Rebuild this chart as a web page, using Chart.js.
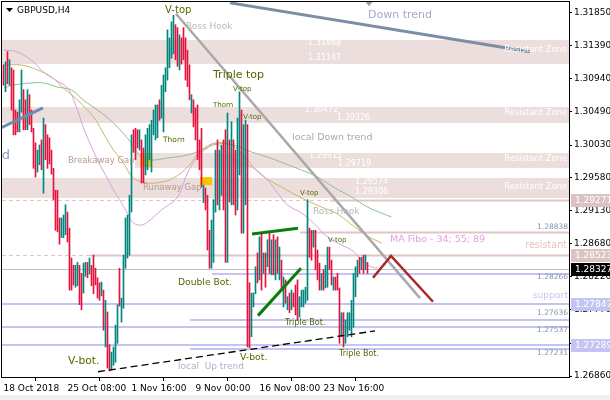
<!DOCTYPE html>
<html><head><meta charset="utf-8">
<script src="https://cdn.jsdelivr.net/npm/chart.js@4.4.0/dist/chart.umd.min.js"></script>
<style>html,body{margin:0;padding:0;background:#fff;overflow:hidden}#wrap{width:610px;height:400px}</style>
</head><body><div id="wrap"><canvas id="c" width="610" height="400"></canvas></div>
<script>
// ---------- data ----------
const opens=[1.3109,1.3081,1.3125,1.3092,1.3103,1.3065,1.3048,1.3044,1.3026,1.3054,
1.3072,1.3040,1.3031,1.3068,1.3044,1.3024,1.2996,1.2971,1.2983,1.3003,
1.2944,1.3026,1.3013,1.3007,1.2989,1.2966,1.2937,1.2934,1.2897,1.2878,
1.2881,1.2886,1.2907,1.2884,1.2842,1.2834,1.2814,1.2815,1.2832,1.2818,
1.2804,1.2829,1.2838,1.2829,1.2834,1.2842,1.2829,1.2815,1.2810,1.2799,
1.2797,1.2731,1.2770,1.2722,1.2701,1.2705,1.2711,1.2740,1.2829,1.2766,
1.2784,1.2842,1.2852,1.2859,1.2928,1.3017,1.3021,1.3018,1.2999,1.3003,
1.2993,1.2969,1.2976,1.2989,1.3003,1.3024,1.3026,1.3017,1.3058,1.3044,
1.3040,1.3081,1.3099,1.3113,1.3127,1.3133,1.3164,1.3158,1.3111,1.3144,
1.3158,1.3144,1.3127,1.3106,1.3051,1.3059,1.3048,1.3051,1.3003,1.3021,
1.2928,1.2941,1.2930,1.2873,1.2842,1.2880,1.2921,1.2989,1.2928,1.2941,
1.2989,1.3017,1.2852,1.3006,1.2928,1.2996,1.2983,1.2928,1.2996,1.3044,
1.2907,1.2928,1.3026,1.2804,1.2742,1.2784,1.2801,1.2848,1.2821,1.2873,
1.2832,1.2851,1.2842,1.2876,1.2832,1.2870,1.2823,1.2866,1.2821,1.2838,
1.2790,1.2814,1.2779,1.2795,1.2784,1.2796,1.2804,1.2797,1.2771,1.2784,
1.2786,1.2790,1.2801,1.2884,1.2873,1.2866,1.2880,1.2848,1.2834,1.2808,
1.2825,1.2811,1.2825,1.2859,1.2840,1.2807,1.2818,1.2821,1.2804,1.2742,
1.2767,1.2736,1.2742,1.2752,1.2756,1.2766,1.2804,1.2826,1.2842,1.2834,
1.2848,1.2834,1.2840];
const highs=[1.3113,1.3117,1.3131,1.3120,1.3109,1.3106,1.3051,1.3048,1.3065,1.3106,
1.3079,1.3065,1.3079,1.3072,1.3051,1.3026,1.3006,1.2996,1.3003,1.3010,
1.3040,1.3031,1.3017,1.3013,1.2996,1.2971,1.2941,1.2941,1.2903,1.2903,
1.2907,1.2921,1.2911,1.2889,1.2848,1.2838,1.2838,1.2842,1.2838,1.2827,
1.2841,1.2842,1.2842,1.2848,1.2838,1.2852,1.2834,1.2821,1.2814,1.2815,
1.2804,1.2790,1.2774,1.2729,1.2719,1.2726,1.2756,1.2784,1.2834,1.2793,
1.2852,1.2903,1.2907,1.2934,1.3017,1.3024,1.3026,1.3024,1.3024,1.3010,
1.2999,1.3017,1.3026,1.3031,1.3037,1.3051,1.3058,1.3058,1.3065,1.3085,
1.3099,1.3109,1.3161,1.3150,1.3172,1.3181,1.3168,1.3164,1.3154,1.3150,
1.3164,1.3150,1.3133,1.3113,1.3072,1.3065,1.3054,1.3058,1.3010,1.3026,
1.2948,1.2944,1.2934,1.2886,1.2900,1.2928,1.2996,1.3010,1.2996,1.3003,
1.3010,1.3024,1.3047,1.3010,1.3035,1.3010,1.2996,1.3040,1.3076,1.3051,
1.3031,1.3037,1.3031,1.2814,1.2800,1.2800,1.2836,1.2855,1.2877,1.2882,
1.2855,1.2855,1.2873,1.2882,1.2873,1.2880,1.2873,1.2877,1.2863,1.2845,
1.2822,1.2818,1.2795,1.2800,1.2804,1.2800,1.2811,1.2818,1.2795,1.2804,
1.2804,1.2808,1.2928,1.2889,1.2886,1.2886,1.2886,1.2859,1.2841,1.2827,
1.2832,1.2838,1.2863,1.2863,1.2845,1.2822,1.2822,1.2827,1.2807,1.2773,
1.2773,1.2763,1.2773,1.2773,1.2790,1.2827,1.2836,1.2845,1.2849,1.2849,
1.2852,1.2852,1.2842];
const lows=[1.3085,1.3076,1.3087,1.3085,1.3051,1.3017,1.3017,1.3021,1.3021,1.3048,
1.3024,1.3024,1.3024,1.3031,1.3021,1.2971,1.2959,1.2966,1.2976,1.2969,
1.2937,1.2983,1.2971,1.2977,1.2963,1.2928,1.2886,1.2884,1.2867,1.2876,
1.2876,1.2880,1.2870,1.2804,1.2804,1.2811,1.2808,1.2810,1.2784,1.2777,
1.2800,1.2823,1.2821,1.2826,1.2810,1.2799,1.2811,1.2793,1.2790,1.2796,
1.2749,1.2726,1.2697,1.2693,1.2694,1.2701,1.2705,1.2731,1.2782,1.2760,
1.2779,1.2834,1.2848,1.2852,1.2911,1.2993,1.2983,1.2999,1.2996,1.2951,
1.2951,1.2962,1.2969,1.2983,1.2966,1.3017,1.3010,1.3013,1.3037,1.3040,
1.3021,1.3076,1.3092,1.3109,1.3122,1.3128,1.3120,1.3111,1.3106,1.3114,
1.3120,1.3092,1.3083,1.3065,1.3047,1.3028,1.3010,1.2983,1.2969,1.2945,
1.2924,1.2914,1.2859,1.2834,1.2834,1.2842,1.2911,1.2921,1.2914,1.2934,
1.2914,1.2842,1.2842,1.2925,1.2921,1.2921,1.2907,1.2914,1.2962,1.2882,
1.2882,1.2921,1.2726,1.2725,1.2740,1.2781,1.2799,1.2814,1.2818,1.2804,
1.2827,1.2808,1.2836,1.2827,1.2825,1.2825,1.2818,1.2827,1.2818,1.2804,
1.2781,1.2786,1.2777,1.2773,1.2777,1.2781,1.2770,1.2763,1.2767,1.2781,
1.2781,1.2786,1.2790,1.2849,1.2845,1.2863,1.2832,1.2818,1.2804,1.2804,
1.2804,1.2807,1.2808,1.2832,1.2811,1.2804,1.2804,1.2804,1.2731,1.2740,
1.2726,1.2731,1.2740,1.2749,1.2740,1.2753,1.2795,1.2822,1.2827,1.2832,
1.2827,1.2832,1.2827];
const closes=[1.3092,1.3111,1.3089,1.3113,1.3058,1.3026,1.3024,1.3026,1.3051,1.3099,
1.3031,1.3031,1.3072,1.3037,1.3026,1.2983,1.2966,1.2989,1.2996,1.2976,
1.3035,1.2985,1.2976,1.2983,1.2969,1.2934,1.2893,1.2889,1.2873,1.2897,
1.2900,1.2914,1.2876,1.2811,1.2811,1.2815,1.2832,1.2836,1.2790,1.2784,
1.2834,1.2840,1.2823,1.2842,1.2814,1.2804,1.2815,1.2796,1.2793,1.2810,
1.2756,1.2782,1.2705,1.2701,1.2712,1.2719,1.2749,1.2777,1.2788,1.2788,
1.2842,1.2893,1.2900,1.2928,1.3010,1.2999,1.2989,1.3003,1.3017,1.2955,
1.2962,1.3010,1.3021,1.3024,1.3031,1.3044,1.3051,1.3048,1.3040,1.3079,
1.3092,1.3103,1.3150,1.3144,1.3164,1.3172,1.3127,1.3117,1.3147,1.3120,
1.3127,1.3099,1.3089,1.3072,1.3065,1.3035,1.3017,1.2989,1.2976,1.2955,
1.2941,1.2921,1.2866,1.2842,1.2889,1.2921,1.2985,1.2928,1.2983,1.2983,
1.2928,1.2852,1.3031,1.2941,1.2996,1.2934,1.2928,1.3031,1.3065,1.2955,
1.3024,1.3026,1.2749,1.2742,1.2790,1.2795,1.2829,1.2818,1.2870,1.2811,
1.2851,1.2814,1.2866,1.2834,1.2866,1.2832,1.2859,1.2832,1.2856,1.2811,
1.2815,1.2790,1.2790,1.2779,1.2800,1.2785,1.2777,1.2770,1.2790,1.2800,
1.2799,1.2804,1.2907,1.2859,1.2852,1.2880,1.2842,1.2825,1.2811,1.2822,
1.2811,1.2832,1.2856,1.2838,1.2818,1.2818,1.2807,1.2808,1.2749,1.2766,
1.2736,1.2756,1.2766,1.2768,1.2784,1.2818,1.2829,1.2841,1.2832,1.2845,
1.2834,1.2845,1.28327];

// Moving averages (bar index, value)
const ma34Idx=[0,7,15,20,26,32,37,40,47,51,55,59,62,65,69,72,79,87,92,97,102,106,110,115,124,132,137,142,149,155,162,169,174,179,184,187];
const ma34Val=[1.31333,1.31306,1.31169,1.31031,1.30922,1.30812,1.30510,1.30263,1.29824,1.29619,1.29413,1.29234,1.29097,1.28960,1.28933,1.28974,1.29138,1.29317,1.29646,1.29865,1.29989,1.30057,1.29961,1.29824,1.29728,1.29550,1.29372,1.29207,1.29097,1.28960,1.28768,1.28658,1.28590,1.28453,1.28357,1.28343];
const ma55Idx=[0,9,17,24,30,37,45,49,54,60,65,72,79,85,92,99,106,114,121,129,139,149,159,167,175,182,189];
const ma55Val=[1.31127,1.31127,1.31059,1.30963,1.30812,1.30647,1.30414,1.30236,1.30003,1.29783,1.29577,1.29509,1.29522,1.29577,1.29728,1.29961,1.30057,1.30030,1.29852,1.29619,1.29454,1.29303,1.29180,1.29084,1.28919,1.28782,1.28686];
const ma89Idx=[0,5,14,20,27,34,40,47,55,64,69,74,82,92,99,107,115,124,132,140,149,157,165,174,182,189,194];
const ma89Val=[1.30812,1.30853,1.30881,1.30881,1.30826,1.30785,1.30647,1.30510,1.30332,1.30057,1.29865,1.29824,1.29852,1.29893,1.29961,1.30044,1.30030,1.29934,1.29865,1.29783,1.29687,1.29591,1.29454,1.29317,1.29180,1.29097,1.29042];

const xTickIdx=[0,32,64,96,128,160];
const xTickLabels=['18 Oct 2018','25 Oct 08:00','1 Nov 16:00','9 Nov 00:00','16 Nov 08:00','23 Nov 16:00'];
const yTicks=[1.26860,1.27310,1.27770,1.28220,1.28680,1.29130,1.29580,1.30030,1.30490,1.30940,1.31390,1.31850];

const zoneTops=[1.31468,1.30550,1.29915,1.29574];
const zoneBottoms=[1.31147,1.30326,1.29719,1.29306];
const pinkLevels=[1.29271,1.28838,1.28523];
const supportLevels=[1.28266,1.27847,1.27636,1.27537,1.27289,1.27231];
const lastPrice=1.28327;

// ---------- styling / annotation config ----------
const FONT='"DejaVu Sans", Verdana, sans-serif';
const UP='#00857f', DN='#e8103c';
const OLV='#4f6a00';
const zoneFrom=[null,null,65.75,null];
const pinkCfg=[{dashFull:true,solidFrom:163.25},{dashFull:false,solidFrom:148.25},{dashFull:true,solidFrom:43.25}];
const supFrom=[104.25,null,93.25,null,null,93.25];
const gapBoxes=[[68.25,74.25,1.2992,1.2973],[98.25,104.25,1.2959,1.2948]];
const segs=[
 {p:[[113.25,1.3198],[263.25,1.3131]],c:'#7b8ea3',w:3},
 {p:[[-1.75,1.3026],[19.75,1.3054]],c:'#6d8db2',w:3},
 {p:[[86.25,1.3183],[208.25,1.2793]],c:'#a9a9a9',w:2.5},
 {p:[[47.25,1.2692],[185.75,1.2748]],c:'#000',w:1.3,d:[7,4]},
 {p:[[124.25,1.2881],[147.25,1.2889]],c:'#0a7d0a',w:3},
 {p:[[127.25,1.2769],[148.75,1.2834]],c:'#0a7d0a',w:3},
 {p:[[184.75,1.2821],[193.75,1.2851],[214.75,1.2788]],c:'#a8282c',w:2.5}
];
const notes=[
 ['V-top',80.8,1.3188,OLV,10,'left'],
 ['Ross Hook',91.25,1.3165,'#b8b8b8',9,'left'],
 ['Down trend',182.25,1.3181,'#a3abc3',11,'left'],
 ['1.31468',152.25,1.3143,'#fff',8,'left'],
 ['1.31147',152.25,1.3122,'#fff',8,'left'],
 ['Resistant Zone',281.75,1.3133,'#fff',8.4,'right'],
 ['Resistant Zone',281.75,1.3047,'#fff',8.4,'right'],
 ['Resistant Zone',281.75,1.2984,'#fff',8.4,'right'],
 ['Resistant Zone',281.75,1.2945,'#fff',8.4,'right'],
 ['Triple top',104.75,1.3099,OLV,11,'left'],
 ['V-top',114.75,1.3080,OLV,7,'left'],
 ['Thorn',104.75,1.3058,OLV,7,'left'],
 ['V-top',119.75,1.3041,OLV,7,'left'],
 ['1.30472',150.75,1.3051,'#fff',8,'left'],
 ['1.30326',166.75,1.3040,'#fff',8,'left'],
 ['Thorn',79.75,1.3010,OLV,7.5,'left'],
 ['local Down trend',144.25,1.3013,'#a9a9b1',9.5,'left'],
 ['Breakaway Gap',32.25,1.2981,'#b89a8c',8.5,'left'],
 ['Runaway Gap',69.75,1.2944,'#b89a8c',8.5,'left'],
 ['1.29915',152.75,1.2988,'#fff',8,'left'],
 ['1.29719',167.25,1.2977,'#fff',8,'left'],
 ['1.29574',175.75,1.2952,'#fff',8,'left'],
 ['1.29306',175.75,1.2939,'#fff',8,'left'],
 ['V-top',148.25,1.2937,OLV,7,'left'],
 ['Ross Hook',154.75,1.2911,'#b8b8b8',9,'left'],
 ['V-top',162.25,1.2873,OLV,7,'left'],
 ['MA Fibo - 34; 55; 89',193.25,1.2873,'#e0a0e0',9.5,'left'],
 ['1.28838',282.25,1.2891,'#8494b0',7.5,'right'],
 ['resistant',281.75,1.2865,'#e2c4c4',9.6,'right'],
 ['1.28266',282.25,1.2822,'#8494b0',7.5,'right'],
 ['support',282.25,1.2797,'#c4c4f2',9.2,'right'],
 ['1.27636',282.25,1.2773,'#8494b0',7.5,'right'],
 ['1.27537',282.25,1.2749,'#8494b0',7.5,'right'],
 ['1.27231',282.25,1.2718,'#8494b0',7.5,'right'],
 ['Double Bot.',87.25,1.2814,OLV,9.2,'left'],
 ['Triple Bot.',140.75,1.2759,OLV,8.1,'left'],
 ['Triple Bot.',167.75,1.2716,OLV,8,'left'],
 ['V-bot.',118.25,1.2712,OLV,9.3,'left'],
 ['V-bot.',32.25,1.2707,OLV,10.7,'left'],
 ['local  Up trend',87.25,1.2699,'#a8b2c8',9,'left'],
 ['Up trend',3.25,1.2989,'#8c9cc4',13,'right']
];
const axisBoxes=[[1.29271,'#dcc2c2'],[1.28523,'#dcc2c2'],[lastPrice,'#000'],[1.27847,'#c4c4f2'],[1.27289,'#c4c4f2']];

const overlay={
 id:'overlay',
 beforeDraw(ch){const c=ch.ctx;c.save();c.fillStyle='#fff';c.fillRect(0,0,ch.width,ch.height);c.fillStyle='#f0f0f0';c.fillRect(0,395,ch.width,5);c.restore();},
 beforeDatasetsDraw(ch){
  const c=ch.ctx,a=ch.chartArea,X=v=>ch.scales.x.getPixelForValue(v),Y=v=>ch.scales.y.getPixelForValue(v);
  c.save();c.beginPath();c.rect(a.left,a.top,a.right-a.left,a.bottom-a.top);c.clip();
  c.fillStyle='#ecdedd';
  zoneTops.forEach((t,k)=>{const x0=zoneFrom[k]==null?a.left:X(zoneFrom[k]);const y0=Math.round(Y(t)),y1=Math.round(Y(zoneBottoms[k]));c.fillRect(x0,y0,a.right-x0,y1-y0);});
  pinkLevels.forEach((p,k)=>{const y=Math.round(Y(p))+0.5;const cf=pinkCfg[k];
   if(cf.dashFull){c.strokeStyle='#e6c2c2';c.lineWidth=1;c.setLineDash([4,3]);c.beginPath();c.moveTo(a.left,y);c.lineTo(a.right,y);c.stroke();c.setLineDash([]);}
   c.strokeStyle='#dec6c6';c.lineWidth=2;c.beginPath();c.moveTo(X(cf.solidFrom),y);c.lineTo(a.right,y);c.stroke();});
  c.strokeStyle='#c4c4f4';c.lineWidth=2;
  supportLevels.forEach((p,k)=>{const y=Math.round(Y(p));const x0=supFrom[k]==null?a.left:X(supFrom[k]);c.beginPath();c.moveTo(x0,y);c.lineTo(a.right,y);c.stroke();});
  c.strokeStyle='#c0c0c0';c.lineWidth=1;const yl=Math.round(Y(lastPrice))+0.5;c.beginPath();c.moveTo(a.left,yl);c.lineTo(a.right,yl);c.stroke();
  c.fillStyle='#f6c700';
  gapBoxes.forEach(b=>{c.fillRect(X(b[0]),Y(b[2]),X(b[1])-X(b[0]),Y(b[3])-Y(b[2]));});
  c.restore();
 },
 afterDatasetsDraw(ch){
  const c=ch.ctx,a=ch.chartArea,X=v=>ch.scales.x.getPixelForValue(v),Y=v=>ch.scales.y.getPixelForValue(v);
  c.save();c.beginPath();c.rect(a.left,a.top,a.right-a.left,a.bottom-a.top);c.clip();
  segs.forEach(s=>{c.strokeStyle=s.c;c.lineWidth=s.w;c.setLineDash(s.d||[]);c.lineCap='butt';c.beginPath();s.p.forEach((q,j)=>{const x=X(q[0]),y=Y(q[1]);j?c.lineTo(x,y):c.moveTo(x,y);});c.stroke();});
  c.setLineDash([]);
  c.fillStyle='#a0a0a0';const tx=X(182.75),ty=Y(1.3196);c.beginPath();c.moveTo(tx-4,ty-3);c.lineTo(tx+4,ty-3);c.lineTo(tx,ty+2);c.closePath();c.fill();
  c.textBaseline='middle';
  notes.forEach(n=>{c.font=n[4]+'px '+FONT;c.fillStyle=n[3];c.textAlign=n[5];c.fillText(n[0],X(n[1]),Y(n[2]));});
  c.restore();
  c.save();c.fillStyle='#000';c.beginPath();c.moveTo(a.left+4,a.top+6);c.lineTo(a.left+11,a.top+6);c.lineTo(a.left+7.5,a.top+10);c.closePath();c.fill();
  c.font='9px '+FONT;c.textBaseline='middle';c.textAlign='left';c.fillText('GBPUSD,H4',a.left+15,a.top+8.5);c.restore();
 },
 afterDraw(ch){
  const c=ch.ctx,a=ch.chartArea,Y=v=>ch.scales.y.getPixelForValue(v);
  c.save();
  axisBoxes.forEach(b=>{const y=Math.round(Y(b[0]));c.fillStyle=b[1];c.fillRect(a.right+2,y-6,ch.width-a.right-2,13);
   c.fillStyle='#fff';c.font='9px '+FONT;c.textBaseline='middle';c.textAlign='left';c.fillText(b[0].toFixed(5),a.right+6,y+0.5);});
  c.strokeStyle='#000';c.lineWidth=1;c.strokeRect(a.left-0.5,a.top-0.5,a.right-a.left+1,a.bottom-a.top+1);
  c.restore();
 }
};

const chart=new Chart(document.getElementById('c'),{
 type:'bar',
 data:{datasets:[
  {type:'line',data:ma89Idx.map((x,k)=>({x,y:ma89Val[k]})),borderColor:'#8fc08f',borderWidth:1,pointRadius:0,tension:0.4,order:3},
  {type:'line',data:ma55Idx.map((x,k)=>({x,y:ma55Val[k]})),borderColor:'#c4b868',borderWidth:1,pointRadius:0,tension:0.4,order:2},
  {type:'line',data:ma34Idx.map((x,k)=>({x,y:ma34Val[k]})),borderColor:'#dd9ee0',borderWidth:1,pointRadius:0,tension:0.4,order:1},
  {type:'bar',data:highs.map((h,i)=>({x:i,y:[lows[i],h]})),backgroundColor:closes.map((v,i)=>v>=opens[i]?UP:DN),barThickness:1,borderWidth:0,order:0}
 ]},
 options:{
  responsive:false,animation:false,events:[],
  layout:{padding:{left:2,top:2,right:0,bottom:0}},
  plugins:{legend:{display:false},tooltip:{enabled:false}},
  scales:{
   x:{type:'linear',min:-0.75,max:282.75,offset:false,
      afterFit(s){s.height=23;s.paddingLeft=0;s.paddingRight=0;}, afterBuildTicks(s){s.ticks=xTickIdx.map(v=>({value:v}));},
      grid:{drawOnChartArea:false,drawTicks:true,tickLength:4,color:'#000'},border:{display:true,color:'#000'},
      ticks:{autoSkip:false,maxRotation:0,align:'start',padding:2,color:'#000',font:{family:FONT,size:9},callback:v=>xTickLabels[xTickIdx.indexOf(v)]}},
   y:{type:'linear',position:'right',min:1.26848,max:1.31992,
      afterFit(s){s.width=41;s.paddingTop=0;s.paddingBottom=0;}, afterBuildTicks(s){s.ticks=yTicks.map(v=>({value:v}));},
      grid:{drawOnChartArea:false,drawTicks:true,tickLength:3,color:'#000'},border:{display:true,color:'#000'},
      ticks:{padding:2,color:'#000',font:{family:FONT,size:9},callback:v=>v.toFixed(5)}}
  }
 },
 plugins:[overlay]
});
</script></body></html>
